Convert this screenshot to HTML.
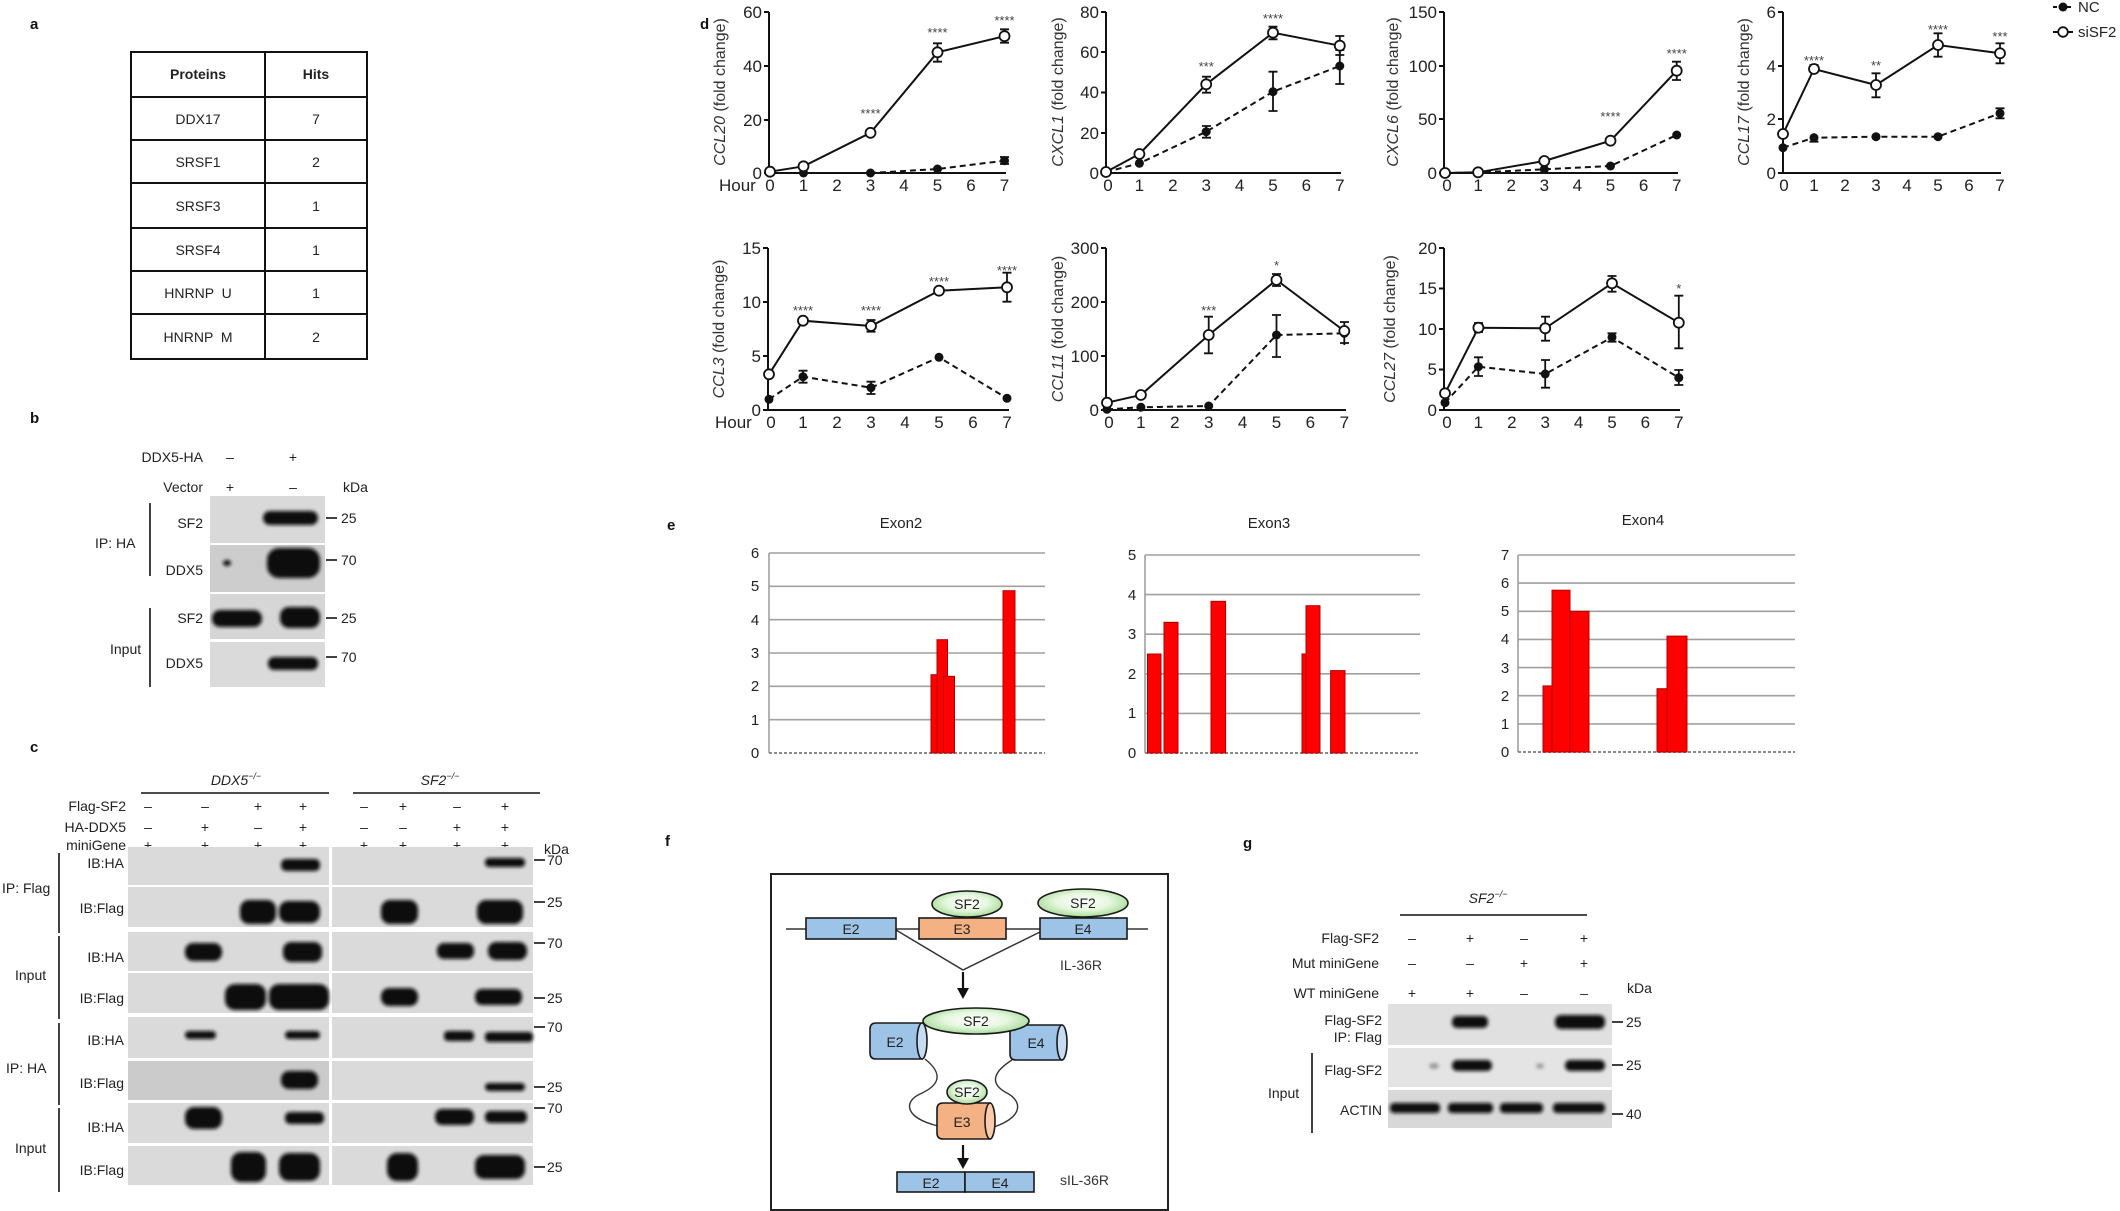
<!DOCTYPE html>
<html><head><meta charset="utf-8"><style>
html,body{margin:0;padding:0;background:#fff;}
svg{display:block;font-family:"Liberation Sans",Arial,sans-serif;}
</style></head><body>
<svg width="2120" height="1211" viewBox="0 0 2120 1211" xmlns="http://www.w3.org/2000/svg">
<defs>
<filter id="bl" x="-20%" y="-50%" width="140%" height="200%"><feGaussianBlur stdDeviation="1.8"/></filter>
<radialGradient id="gr" cx="50%" cy="45%" r="60%"><stop offset="0" stop-color="#ffffff"/><stop offset="0.5" stop-color="#e6f7df"/><stop offset="1" stop-color="#9bd68a"/></radialGradient>
</defs>
<rect width="2120" height="1211" fill="#fff"/>

<!-- panel labels -->
<g font-weight="bold" font-size="15" fill="#111">
<text x="30" y="29">a</text><text x="30" y="423">b</text><text x="30" y="752">c</text>
<text x="700" y="29">d</text><text x="667" y="530">e</text><text x="665" y="846">f</text><text x="1243" y="848">g</text>
</g>

<!-- ===== a: table ===== -->
<g stroke="#111" stroke-width="2" fill="none">
<rect x="131" y="52" width="236" height="307"/>
<line x1="265" y1="52" x2="265" y2="359"/>
<line x1="131" y1="97" x2="367" y2="97"/><line x1="131" y1="140" x2="367" y2="140"/>
<line x1="131" y1="183" x2="367" y2="183"/><line x1="131" y1="228" x2="367" y2="228"/>
<line x1="131" y1="271" x2="367" y2="271"/><line x1="131" y1="314" x2="367" y2="314"/>
</g>
<g font-size="14" fill="#222" text-anchor="middle">
<text x="198" y="79" font-weight="bold">Proteins</text><text x="316" y="79" font-weight="bold">Hits</text>
<text x="198" y="124">DDX17</text><text x="316" y="124">7</text>
<text x="198" y="167">SRSF1</text><text x="316" y="167">2</text>
<text x="198" y="211">SRSF3</text><text x="316" y="211">1</text>
<text x="198" y="255">SRSF4</text><text x="316" y="255">1</text>
<text x="198" y="298" xml:space="preserve">HNRNP  U</text><text x="316" y="298">1</text>
<text x="198" y="342" xml:space="preserve">HNRNP  M</text><text x="316" y="342">2</text>
</g>

<!-- ===== b ===== -->
<g font-size="14" fill="#222">
<g text-anchor="end"><text x="203" y="462">DDX5-HA</text><text x="203" y="492">Vector</text>
<text x="203" y="528">SF2</text><text x="203" y="575">DDX5</text><text x="203" y="623">SF2</text><text x="203" y="668">DDX5</text></g>
<g text-anchor="middle"><text x="230" y="462">–</text><text x="293" y="462">+</text><text x="230" y="492">+</text><text x="293" y="492">–</text></g>
<text x="343" y="492">kDa</text>
<text x="95" y="548">IP:  HA</text><text x="110" y="654">Input</text>
<text x="341" y="523">25</text><text x="341" y="565">70</text><text x="341" y="623">25</text><text x="341" y="662">70</text>
</g>
<g stroke="#111" stroke-width="1.6"><line x1="150" y1="503" x2="150" y2="576"/><line x1="150" y1="608" x2="150" y2="687"/>
<line x1="326" y1="518" x2="337" y2="518"/><line x1="326" y1="560" x2="337" y2="560"/><line x1="326" y1="618" x2="337" y2="618"/><line x1="326" y1="657" x2="337" y2="657"/></g>
<rect x="210" y="496" width="115" height="47" fill="#d9d9d9"/>
<rect x="210" y="545" width="115" height="47" fill="#cdcdcd"/>
<rect x="210" y="594" width="115" height="45" fill="#d6d6d6"/>
<rect x="210" y="642" width="115" height="45" fill="#dadada"/>
<g fill="#0d0d0d" filter="url(#bl)">
<rect x="263" y="511" width="55" height="14" rx="7"/>
<rect x="267" y="548" width="53" height="30" rx="12"/>
<ellipse cx="227" cy="563" rx="4" ry="3"/>
<rect x="212" y="610" width="50" height="17" rx="8"/>
<rect x="280" y="607" width="40" height="21" rx="9"/>
<rect x="268" y="657" width="50" height="13" rx="6"/>
</g>

<!-- ===== c ===== -->
<g font-size="14" fill="#222">
<text x="236" y="785" text-anchor="middle" font-style="italic">DDX5<tspan font-size="9" dy="-6">−/−</tspan></text>
<text x="440" y="785" text-anchor="middle" font-style="italic">SF2<tspan font-size="9" dy="-6">−/−</tspan></text>
<g text-anchor="end"><text x="126" y="811">Flag-SF2</text><text x="126" y="832">HA-DDX5</text><text x="126" y="850">miniGene</text>
<text x="124" y="868">IB:HA</text><text x="124" y="913">IB:Flag</text><text x="124" y="962">IB:HA</text><text x="124" y="1003">IB:Flag</text>
<text x="124" y="1045">IB:HA</text><text x="124" y="1088">IB:Flag</text><text x="124" y="1132">IB:HA</text><text x="124" y="1175">IB:Flag</text></g>
<g text-anchor="middle">
<text x="148" y="811">–</text><text x="205" y="811">–</text><text x="258" y="811">+</text><text x="303" y="811">+</text>
<text x="364" y="811">–</text><text x="403" y="811">+</text><text x="457" y="811">–</text><text x="505" y="811">+</text>
<text x="148" y="832">–</text><text x="205" y="832">+</text><text x="258" y="832">–</text><text x="303" y="832">+</text>
<text x="364" y="832">–</text><text x="403" y="832">–</text><text x="457" y="832">+</text><text x="505" y="832">+</text>
<text x="148" y="850">+</text><text x="205" y="850">+</text><text x="258" y="850">+</text><text x="303" y="850">+</text>
<text x="364" y="850">+</text><text x="403" y="850">+</text><text x="457" y="850">+</text><text x="505" y="850">+</text>
</g>
<text x="544" y="854">kDa</text>
<text x="2" y="893">IP:  Flag</text><text x="15" y="980">Input</text><text x="6" y="1073">IP:  HA</text><text x="15" y="1153">Input</text>
<text x="547" y="865">70</text><text x="547" y="907">25</text><text x="547" y="948">70</text><text x="547" y="1003">25</text>
<text x="547" y="1032">70</text><text x="547" y="1092">25</text><text x="547" y="1113">70</text><text x="547" y="1172">25</text>
</g>
<g stroke="#111" stroke-width="1.6">
<line x1="141" y1="793" x2="329" y2="793"/><line x1="353" y1="793" x2="540" y2="793"/>
<line x1="59" y1="853" x2="59" y2="933"/><line x1="59" y1="936" x2="59" y2="1019"/><line x1="59" y1="1023" x2="59" y2="1105"/><line x1="59" y1="1108" x2="59" y2="1192"/>
<line x1="534" y1="860" x2="545" y2="860"/><line x1="534" y1="902" x2="545" y2="902"/><line x1="534" y1="943" x2="545" y2="943"/><line x1="534" y1="998" x2="545" y2="998"/>
<line x1="534" y1="1027" x2="545" y2="1027"/><line x1="534" y1="1087" x2="545" y2="1087"/><line x1="534" y1="1108" x2="545" y2="1108"/><line x1="534" y1="1167" x2="545" y2="1167"/>
</g>
<g fill="#dadada">
<rect x="128" y="847" width="201" height="38"/><rect x="332" y="847" width="201" height="38"/>
<rect x="128" y="887" width="201" height="40"/><rect x="332" y="887" width="201" height="40"/>
<rect x="128" y="932" width="201" height="39"/><rect x="332" y="932" width="201" height="39"/>
<rect x="128" y="973" width="201" height="40"/><rect x="332" y="973" width="201" height="40"/>
<rect x="128" y="1017" width="201" height="41"/><rect x="332" y="1017" width="201" height="41"/>
<rect x="128" y="1061" width="201" height="39" fill="#cbcbcb"/><rect x="332" y="1061" width="201" height="39"/>
<rect x="128" y="1103" width="201" height="40"/><rect x="332" y="1103" width="201" height="40"/>
<rect x="128" y="1146" width="201" height="39"/><rect x="332" y="1146" width="201" height="39"/>
</g>
<g fill="#0d0d0d" filter="url(#bl)">
<rect x="281" y="859" width="39" height="12" rx="5"/><rect x="485" y="858" width="40" height="9" rx="4"/>
<rect x="240" y="900" width="36" height="24" rx="9"/><rect x="279" y="901" width="41" height="22" rx="9"/>
<rect x="381" y="900" width="37" height="24" rx="9"/><rect x="477" y="900" width="46" height="24" rx="9"/>
<rect x="185" y="943" width="37" height="18" rx="8"/><rect x="283" y="942" width="39" height="20" rx="8"/>
<rect x="437" y="943" width="37" height="16" rx="7"/><rect x="488" y="942" width="39" height="18" rx="8"/>
<rect x="225" y="984" width="41" height="26" rx="10"/><rect x="269" y="984" width="60" height="26" rx="10"/>
<rect x="381" y="988" width="37" height="18" rx="8"/><rect x="475" y="989" width="47" height="16" rx="7"/>
<rect x="185" y="1031" width="31" height="8" rx="4"/><rect x="285" y="1031" width="35" height="8" rx="4"/>
<rect x="444" y="1031" width="30" height="10" rx="4"/><rect x="485" y="1032" width="48" height="10" rx="4"/>
<rect x="281" y="1071" width="37" height="18" rx="8"/><rect x="485" y="1083" width="40" height="8" rx="4"/>
<rect x="185" y="1107" width="37" height="22" rx="9"/><rect x="285" y="1112" width="39" height="12" rx="5"/>
<rect x="435" y="1109" width="39" height="16" rx="7"/><rect x="485" y="1111" width="42" height="12" rx="5"/>
<rect x="231" y="1152" width="35" height="30" rx="10"/><rect x="279" y="1153" width="41" height="28" rx="10"/>
<rect x="387" y="1153" width="31" height="28" rx="10"/><rect x="475" y="1155" width="50" height="24" rx="9"/>
</g>

<!-- ===== d: line charts ===== -->
<g stroke="#111" stroke-width="2" fill="none">
<path d="M769 12V173H1006"/><path d="M1106 12V173H1341"/><path d="M1444 12V173H1678"/><path d="M1783 12V173H2001"/>
<path d="M768 248V410H1009"/><path d="M1106 248V410H1346"/><path d="M1444 248V410H1680"/>
<path d="M764 12H769M764 66H769M764 120H769M764 173H769"/>
<path d="M1101 12H1106M1101 52H1106M1101 92.5H1106M1101 133H1106M1101 173H1106"/>
<path d="M1439 12H1444M1439 66H1444M1439 119H1444M1439 173H1444"/>
<path d="M1778 12H1783M1778 66H1783M1778 119H1783M1778 173H1783"/>
<path d="M763 248H768M763 302H768M763 356H768M763 410H768"/>
<path d="M1101 248H1106M1101 302H1106M1101 356H1106M1101 410H1106"/>
<path d="M1439 248H1444M1439 288.5H1444M1439 329H1444M1439 369.5H1444M1439 410H1444"/>
</g>
<g font-size="17" fill="#222">
<g text-anchor="end">
<text x="762" y="18">60</text><text x="762" y="72">40</text><text x="762" y="126">20</text><text x="762" y="179">0</text>
<text x="1099" y="18">80</text><text x="1099" y="58">60</text><text x="1099" y="98">40</text><text x="1099" y="139">20</text><text x="1099" y="179">0</text>
<text x="1437" y="18">150</text><text x="1437" y="72">100</text><text x="1437" y="125">50</text><text x="1437" y="179">0</text>
<text x="1776" y="18">6</text><text x="1776" y="72">4</text><text x="1776" y="125">2</text><text x="1776" y="179">0</text>
<text x="761" y="254">15</text><text x="761" y="308">10</text><text x="761" y="362">5</text><text x="761" y="416">0</text>
<text x="1099" y="254">300</text><text x="1099" y="308">200</text><text x="1099" y="362">100</text><text x="1099" y="416">0</text>
<text x="1437" y="254">20</text><text x="1437" y="294">15</text><text x="1437" y="335">10</text><text x="1437" y="375">5</text><text x="1437" y="416">0</text>
</g>
<g text-anchor="middle">
<text x="770" y="191">0</text><text x="803.5" y="191">1</text><text x="837" y="191">2</text><text x="870.5" y="191">3</text><text x="904" y="191">4</text><text x="937.5" y="191">5</text><text x="971" y="191">6</text><text x="1004.5" y="191">7</text>
<text x="1108" y="191">0</text><text x="1139.4" y="191">1</text><text x="1172.8" y="191">2</text><text x="1206.2" y="191">3</text><text x="1239.6" y="191">4</text><text x="1273" y="191">5</text><text x="1306.4" y="191">6</text><text x="1339.8" y="191">7</text>
<text x="1447" y="191">0</text><text x="1478.1" y="191">1</text><text x="1511.2" y="191">2</text><text x="1544.3" y="191">3</text><text x="1577.4" y="191">4</text><text x="1610.5" y="191">5</text><text x="1643.6" y="191">6</text><text x="1676.7" y="191">7</text>
<text x="1784" y="191">0</text><text x="1814" y="191">1</text><text x="1845" y="191">2</text><text x="1876" y="191">3</text><text x="1907" y="191">4</text><text x="1938" y="191">5</text><text x="1969" y="191">6</text><text x="2000" y="191">7</text>
<text x="771" y="428">0</text><text x="803" y="428">1</text><text x="837" y="428">2</text><text x="871" y="428">3</text><text x="905" y="428">4</text><text x="939" y="428">5</text><text x="973" y="428">6</text><text x="1007" y="428">7</text>
<text x="1109" y="428">0</text><text x="1140.9" y="428">1</text><text x="1174.8" y="428">2</text><text x="1208.7" y="428">3</text><text x="1242.6" y="428">4</text><text x="1276.5" y="428">5</text><text x="1310.4" y="428">6</text><text x="1344.3" y="428">7</text>
<text x="1447" y="428">0</text><text x="1478.4" y="428">1</text><text x="1511.8" y="428">2</text><text x="1545.2" y="428">3</text><text x="1578.6" y="428">4</text><text x="1612" y="428">5</text><text x="1645.4" y="428">6</text><text x="1678.8" y="428">7</text>
</g>
<text x="719" y="191">Hour</text><text x="715" y="428">Hour</text>
</g>
<g font-size="16" fill="#333" text-anchor="middle">
<text transform="translate(725,92) rotate(-90)"><tspan font-style="italic">CCL20</tspan> (fold change)</text>
<text transform="translate(1063,92) rotate(-90)"><tspan font-style="italic">CXCL1</tspan> (fold change)</text>
<text transform="translate(1398,92) rotate(-90)"><tspan font-style="italic">CXCL6</tspan> (fold change)</text>
<text transform="translate(1749,92) rotate(-90)"><tspan font-style="italic">CCL17</tspan> (fold change)</text>
<text transform="translate(724,329) rotate(-90)"><tspan font-style="italic">CCL3</tspan> (fold change)</text>
<text transform="translate(1063,329) rotate(-90)"><tspan font-style="italic">CCL11</tspan> (fold change)</text>
<text transform="translate(1395,329) rotate(-90)"><tspan font-style="italic">CCL27</tspan> (fold change)</text>
</g>
<g stroke="#111" stroke-width="2" fill="none" stroke-dasharray="6,4">
<polyline points="770,173 803.5,173 870.5,173 937.5,169 1004.5,160.7"/>
<polyline points="1106,172 1139.4,163.3 1206.2,131.7 1273,91.7 1339.8,66"/>
<polyline points="1445,173 1478.1,172.5 1544.3,169.3 1610.5,166 1676.7,135"/>
<polyline points="1783,147.7 1814,137.7 1876,136.7 1938,136.7 2000,113.3"/>
<polyline points="769,399.3 803,376.7 871,387.7 939,357.3 1007,398.3"/>
<polyline points="1107,409.3 1140.9,407.3 1208.7,406 1276.5,335 1344.3,333.3"/>
<polyline points="1445,402.7 1478.4,366.7 1545.2,374 1612,337.3 1678.8,377.7"/>
</g>
<g stroke="#111" stroke-width="2" fill="none">
<polyline points="770,171.7 803.5,166.3 870.5,132.8 937.5,52.3 1004.5,36.2"/>
<polyline points="1106,172 1139.4,154 1206.2,84.3 1273,32.7 1339.8,45.7"/>
<polyline points="1445,173 1478.1,172.3 1544.3,161 1610.5,140.7 1676.7,70.7"/>
<polyline points="1783,134 1814,69 1876,85 1938,45 2000,53.3"/>
<polyline points="769,374.3 803,320.7 871,326 939,290.7 1007,287.3"/>
<polyline points="1107,402.7 1140.9,395 1208.7,335 1276.5,280 1344.3,331"/>
<polyline points="1445,393.3 1478.4,327.7 1545.2,328.3 1612,283.3 1678.8,322.7"/>
</g>
<g stroke="#111" stroke-width="1.8" fill="none">
<path d="M937.5 43.3V61.7M933 43.3h9M933 61.7h9 M1004.5 29.3V42.7M1000 29.3h9M1000 42.7h9 M1004.5 157V164M1000 157h9M1000 164h9"/>
<path d="M1206.2 76.7V92.7M1202 76.7h9M1202 92.7h9 M1273 26.7V39.3M1268.5 26.7h9M1268.5 39.3h9 M1339.8 36V55M1335.3 36h9M1335.3 55h9"/>
<path d="M1206.2 126V137.7M1202 126h9M1202 137.7h9 M1273 71.7V111M1268.5 71.7h9M1268.5 111h9 M1339.8 50V84M1335.3 50h9M1335.3 84h9"/>
<path d="M1676.7 61.7V80M1672 61.7h9M1672 80h9"/>
<path d="M1783 128V140M1814 65V73.3M1809.5 65h9M1876 73.3V97.3M1871.5 73.3h9M1871.5 97.3h9 M1938 33.3V56.7M1933.5 33.3h9M1933.5 56.7h9 M2000 43.3V63.3M1995.5 43.3h9M1995.5 63.3h9 M1814 133.3V141.7M1809.5 141.7h9 M2000 108.3V118.3M1995.5 108.3h9M1995.5 118.3h9"/>
<path d="M871 320V331.7M866.5 320h9M866.5 331.7h9 M1007 272.7V301.7M1002.5 272.7h9M1002.5 301.7h9 M803 370.7V382.7M798.5 370.7h9M798.5 382.7h9 M871 381.7V394M866.5 381.7h9M866.5 394h9"/>
<path d="M1208.7 316.7V353.3M1204 316.7h9M1204 353.3h9 M1276.5 274V286M1272 274h9M1272 286h9 M1344.3 322V343M1340 322h9M1340 343h9 M1276.5 315V357M1272 315h9M1272 357h9 M1344.3 328V345"/>
<path d="M1478.4 323V332M1474 323h9M1474 332h9 M1545.2 316.7V340.7M1541 316.7h9M1541 340.7h9 M1612 276V291.7M1607.5 276h9M1607.5 291.7h9 M1678.8 295.7V348.3M1674.3 295.7h9M1674.3 348.3h9"/>
<path d="M1478.4 357.3V376M1474 357.3h9M1474 376h9 M1545.2 360V387.7M1541 360h9M1541 387.7h9 M1612 333.3V341.7M1607.5 333.3h9M1607.5 341.7h9 M1678.8 370V385M1674.3 370h9M1674.3 385h9"/>
</g>
<g fill="#111">
<circle cx="770" cy="173" r="4.5"/><circle cx="803.5" cy="173" r="4.5"/><circle cx="870.5" cy="173" r="4.5"/><circle cx="937.5" cy="169" r="4.5"/><circle cx="1004.5" cy="160.7" r="4.5"/>
<circle cx="1106" cy="172" r="4.5"/><circle cx="1139.4" cy="163.3" r="4.5"/><circle cx="1206.2" cy="131.7" r="4.5"/><circle cx="1273" cy="91.7" r="4.5"/><circle cx="1339.8" cy="66" r="4.5"/>
<circle cx="1445" cy="173" r="4.5"/><circle cx="1478.1" cy="172.5" r="4.5"/><circle cx="1544.3" cy="169.3" r="4.5"/><circle cx="1610.5" cy="166" r="4.5"/><circle cx="1676.7" cy="135" r="4.5"/>
<circle cx="1783" cy="147.7" r="4.5"/><circle cx="1814" cy="137.7" r="4.5"/><circle cx="1876" cy="136.7" r="4.5"/><circle cx="1938" cy="136.7" r="4.5"/><circle cx="2000" cy="113.3" r="4.5"/>
<circle cx="769" cy="399.3" r="4.5"/><circle cx="803" cy="376.7" r="4.5"/><circle cx="871" cy="387.7" r="4.5"/><circle cx="939" cy="357.3" r="4.5"/><circle cx="1007" cy="398.3" r="4.5"/>
<circle cx="1107" cy="409.3" r="4.5"/><circle cx="1140.9" cy="407.3" r="4.5"/><circle cx="1208.7" cy="406" r="4.5"/><circle cx="1276.5" cy="335" r="4.5"/><circle cx="1344.3" cy="333.3" r="4.5"/>
<circle cx="1445" cy="402.7" r="4.5"/><circle cx="1478.4" cy="366.7" r="4.5"/><circle cx="1545.2" cy="374" r="4.5"/><circle cx="1612" cy="337.3" r="4.5"/><circle cx="1678.8" cy="377.7" r="4.5"/>
</g>
<g fill="#fff" stroke="#111" stroke-width="1.8">
<circle cx="770" cy="171.7" r="5"/><circle cx="803.5" cy="166.3" r="5"/><circle cx="870.5" cy="132.8" r="5"/><circle cx="937.5" cy="52.3" r="5"/><circle cx="1004.5" cy="36.2" r="5"/>
<circle cx="1106" cy="172" r="5"/><circle cx="1139.4" cy="154" r="5"/><circle cx="1206.2" cy="84.3" r="5"/><circle cx="1273" cy="32.7" r="5"/><circle cx="1339.8" cy="45.7" r="5"/>
<circle cx="1445" cy="173" r="5"/><circle cx="1478.1" cy="172.3" r="5"/><circle cx="1544.3" cy="161" r="5"/><circle cx="1610.5" cy="140.7" r="5"/><circle cx="1676.7" cy="70.7" r="5"/>
<circle cx="1783" cy="134" r="5"/><circle cx="1814" cy="69" r="5"/><circle cx="1876" cy="85" r="5"/><circle cx="1938" cy="45" r="5"/><circle cx="2000" cy="53.3" r="5"/>
<circle cx="769" cy="374.3" r="5"/><circle cx="803" cy="320.7" r="5"/><circle cx="871" cy="326" r="5"/><circle cx="939" cy="290.7" r="5"/><circle cx="1007" cy="287.3" r="5"/>
<circle cx="1107" cy="402.7" r="5"/><circle cx="1140.9" cy="395" r="5"/><circle cx="1208.7" cy="335" r="5"/><circle cx="1276.5" cy="280" r="5"/><circle cx="1344.3" cy="331" r="5"/>
<circle cx="1445" cy="393.3" r="5"/><circle cx="1478.4" cy="327.7" r="5"/><circle cx="1545.2" cy="328.3" r="5"/><circle cx="1612" cy="283.3" r="5"/><circle cx="1678.8" cy="322.7" r="5"/>
</g>
<g font-size="13" fill="#444" text-anchor="middle">
<text x="870.5" y="118">****</text><text x="937.5" y="37">****</text><text x="1004.5" y="25">****</text>
<text x="1206.2" y="71">***</text><text x="1273" y="23">****</text>
<text x="1610.5" y="121">****</text><text x="1676.7" y="58">****</text>
<text x="1814" y="65">****</text><text x="1876" y="70">**</text><text x="1938" y="34">****</text><text x="2000" y="41">***</text>
<text x="803" y="315">****</text><text x="871" y="315">****</text><text x="939" y="286">****</text><text x="1007" y="275">****</text>
<text x="1208.7" y="315">***</text><text x="1276.5" y="270">*</text>
<text x="1678.8" y="293">*</text>
</g>
<g stroke="#111" stroke-width="2"><line x1="2053" y1="7" x2="2073" y2="7" stroke-dasharray="4,3"/><line x1="2053" y1="32" x2="2073" y2="32"/></g>
<circle cx="2063" cy="7" r="4.5" fill="#111"/><circle cx="2063" cy="32" r="4.8" fill="#fff" stroke="#111" stroke-width="1.8"/>
<g font-size="15" fill="#222"><text x="2078" y="12">NC</text><text x="2078" y="37">siSF2</text></g>

<!-- ===== e: bar charts ===== -->
<g font-size="15" fill="#222" text-anchor="middle">
<text x="901" y="528">Exon2</text><text x="1269" y="528">Exon3</text><text x="1643" y="525">Exon4</text>
</g>
<g stroke="#a0a0a0" stroke-width="1.6">
<path d="M769 553H1045M769 586.3H1045M769 619.7H1045M769 653H1045M769 686.3H1045M769 719.7H1045"/>
<path d="M1145 555H1420M1145 594.6H1420M1145 634.2H1420M1145 673.8H1420M1145 713.4H1420"/>
<path d="M1518 555H1795M1518 583.1H1795M1518 611.3H1795M1518 639.4H1795M1518 667.6H1795M1518 695.7H1795M1518 723.9H1795"/>
<path d="M769 553V753M1145 555V753M1518 555V752"/>
</g>
<g stroke="#8a8a8a" stroke-width="2" stroke-dasharray="3,2"><path d="M769 753H1045M1145 753H1420M1518 752H1795"/></g>
<g font-size="15" fill="#222" text-anchor="middle">
<text x="755" y="558">6</text><text x="755" y="591">5</text><text x="755" y="625">4</text><text x="755" y="658">3</text><text x="755" y="691">2</text><text x="755" y="725">1</text><text x="755" y="758">0</text>
<text x="1132" y="560">5</text><text x="1132" y="600">4</text><text x="1132" y="639">3</text><text x="1132" y="679">2</text><text x="1132" y="718">1</text><text x="1132" y="758">0</text>
<text x="1505" y="560">7</text><text x="1505" y="588">6</text><text x="1505" y="616">5</text><text x="1505" y="644">4</text><text x="1505" y="673">3</text><text x="1505" y="701">2</text><text x="1505" y="729">1</text><text x="1505" y="757">0</text>
</g>
<g fill="#ff0000" stroke="#b00000" stroke-width="1">
<rect x="931" y="674.7" width="12.5" height="78.3"/><rect x="937" y="639.7" width="10.5" height="113.3"/><rect x="943.5" y="676.3" width="11" height="76.7"/><rect x="1003" y="590.7" width="12" height="162.3"/>
<rect x="1147.5" y="654" width="13.5" height="99"/><rect x="1164" y="622.3" width="14" height="130.7"/><rect x="1211" y="601.3" width="14.6" height="151.7"/>
<rect x="1302" y="654" width="12" height="99"/><rect x="1306" y="605.7" width="14" height="147.3"/><rect x="1330.6" y="670.6" width="14.4" height="82.4"/>
<rect x="1543" y="685.9" width="19" height="66.1"/><rect x="1552" y="590.2" width="18" height="161.8"/><rect x="1570" y="611.3" width="19" height="140.7"/>
<rect x="1657" y="688.7" width="19" height="63.3"/><rect x="1667" y="636.1" width="20" height="115.9"/>
</g>

<!-- ===== f: schematic ===== -->
<rect x="771" y="874" width="397" height="336" fill="none" stroke="#222" stroke-width="2"/>
<g stroke="#333" stroke-width="1.5" fill="none">
<line x1="786" y1="929" x2="1148" y2="929"/>
<polyline points="896,930 963,970 1040,932"/>
</g>
<g stroke="#1a1a1a" stroke-width="1.6">
<rect x="806" y="918" width="90" height="21" fill="#9dc3e6"/>
<rect x="919" y="918" width="87" height="21" fill="#f4b183"/>
<rect x="1040" y="918" width="87" height="21" fill="#9dc3e6"/>
<ellipse cx="967" cy="904" rx="35" ry="13" fill="url(#gr)"/>
<ellipse cx="1083" cy="903" rx="45" ry="14" fill="url(#gr)"/>
</g>
<g stroke="#111" stroke-width="2.2"><line x1="963" y1="972" x2="963" y2="990"/><line x1="963" y1="1145" x2="963" y2="1160"/></g>
<polygon points="957,988 969,988 963,999" fill="#111"/><polygon points="957,1158 969,1158 963,1169" fill="#111"/>
<g stroke="#333" stroke-width="1.4" fill="none">
<path d="M925 1059 C945 1075 938 1086 920 1094 C903 1102 905 1118 938 1126"/>
<path d="M1012 1060 C993 1072 990 1083 1005 1092 C1022 1100 1025 1116 994 1127"/>
</g>
<g stroke="#1a1a1a" stroke-width="1.6">
<path d="M922 1023 H876 Q870 1023 870 1029 V1053 Q870 1059 876 1059 H922 Z" fill="#9dc3e6"/>
<ellipse cx="922" cy="1041" rx="5" ry="18" fill="#c5dcf2"/>
<path d="M1062 1025 H1016 Q1010 1025 1010 1031 V1054 Q1010 1060 1016 1060 H1062 Z" fill="#9dc3e6"/>
<ellipse cx="1062" cy="1042.5" rx="5" ry="17.5" fill="#c5dcf2"/>
<path d="M990 1103 H943 Q937 1103 937 1109 V1133 Q937 1139 943 1139 H990 Z" fill="#f4b183"/>
<ellipse cx="990" cy="1121" rx="5" ry="18" fill="#f8cbad"/>
<ellipse cx="976" cy="1021" rx="53" ry="13" fill="url(#gr)"/>
<ellipse cx="967" cy="1092" rx="20" ry="12" fill="url(#gr)"/>
<rect x="897" y="1172" width="68" height="20" fill="#9dc3e6"/>
<rect x="965" y="1172" width="69" height="20" fill="#9dc3e6"/>
</g>
<g font-size="14" fill="#222" text-anchor="middle">
<text x="851" y="934">E2</text><text x="962" y="934">E3</text><text x="1083" y="934">E4</text>
<text x="967" y="909">SF2</text><text x="1083" y="908">SF2</text>
<text x="976" y="1026">SF2</text><text x="895" y="1047">E2</text><text x="1036" y="1048">E4</text>
<text x="967" y="1097">SF2</text><text x="962" y="1127">E3</text>
<text x="931" y="1188">E2</text><text x="1000" y="1188">E4</text>
</g>
<g font-size="14" fill="#333"><text x="1060" y="970">IL-36R</text><text x="1060" y="1185">sIL-36R</text></g>

<!-- ===== g ===== -->
<g font-size="14" fill="#222">
<text x="1488" y="903" text-anchor="middle" font-style="italic">SF2<tspan font-size="9" dy="-6">−/−</tspan></text>
<g text-anchor="end"><text x="1379" y="943">Flag-SF2</text><text x="1379" y="968">Mut miniGene</text><text x="1379" y="998">WT miniGene</text>
<text x="1382" y="1025">Flag-SF2</text><text x="1382" y="1042">IP:  Flag</text><text x="1382" y="1075">Flag-SF2</text><text x="1382" y="1115">ACTIN</text></g>
<g text-anchor="middle">
<text x="1412" y="943">–</text><text x="1470" y="943">+</text><text x="1524" y="943">–</text><text x="1584" y="943">+</text>
<text x="1412" y="968">–</text><text x="1470" y="968">–</text><text x="1524" y="968">+</text><text x="1584" y="968">+</text>
<text x="1412" y="998">+</text><text x="1470" y="998">+</text><text x="1524" y="998">–</text><text x="1584" y="998">–</text>
</g>
<text x="1627" y="993">kDa</text><text x="1268" y="1098">Input</text>
<text x="1626" y="1027">25</text><text x="1626" y="1070">25</text><text x="1626" y="1119">40</text>
</g>
<g stroke="#111" stroke-width="1.6">
<line x1="1400" y1="915" x2="1587" y2="915"/><line x1="1312" y1="1053" x2="1312" y2="1133"/>
<line x1="1612" y1="1022" x2="1623" y2="1022"/><line x1="1612" y1="1065" x2="1623" y2="1065"/><line x1="1612" y1="1114" x2="1623" y2="1114"/>
</g>
<rect x="1388" y="1004" width="224" height="41" fill="#e0e0e0"/>
<rect x="1388" y="1048" width="224" height="39" fill="#e4e4e4"/>
<rect x="1388" y="1090" width="224" height="38" fill="#d8d8d8"/>
<g fill="#0d0d0d" filter="url(#bl)">
<rect x="1452" y="1016" width="36" height="12" rx="5"/><rect x="1555" y="1015" width="50" height="14" rx="6"/>
<rect x="1452" y="1060" width="40" height="11" rx="5"/><rect x="1565" y="1060" width="40" height="11" rx="5"/>
<rect x="1390" y="1103" width="50" height="10" rx="4"/><rect x="1448" y="1103" width="45" height="10" rx="4"/>
<rect x="1500" y="1103" width="43" height="10" rx="4"/><rect x="1553" y="1103" width="52" height="10" rx="4"/>
</g>
<g fill="#999" filter="url(#bl)"><ellipse cx="1434" cy="1066" rx="5" ry="3"/><ellipse cx="1540" cy="1066" rx="4" ry="2.5"/></g>
</svg>
</body></html>
